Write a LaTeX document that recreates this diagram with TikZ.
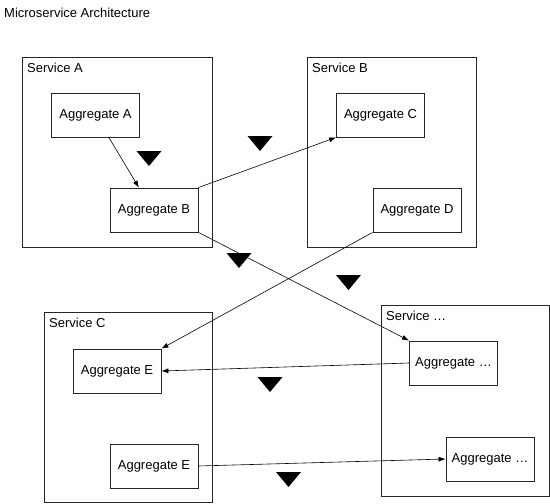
\documentclass[tikz,border=0pt]{standalone}
\usepackage{fontspec}
\setmainfont{Liberation Sans}
\usetikzlibrary{arrows.meta,calc}

\tikzset{
	service/.style={draw=black!85, line width=0.8pt, inner sep=0pt, anchor=north west},
	aggregate/.style={draw=black!85, line width=0.8pt, inner sep=0pt, minimum width=88pt, minimum height=44pt},
	label/.style={anchor=north west, inner sep=0pt},
	link/.style={line width=0.6pt, ->, >={Latex[length=7pt,width=5pt]}},
	marker/.style={fill=black}
}

\begin{document}
\begin{tikzpicture}[x=1pt, y=-1pt, font=\fontsize{13}{15}\selectfont]
	\useasboundingbox (0,0) rectangle (550,504);

	\node[anchor=west, inner sep=0pt] (title) at (4,13) {Microservice Architecture};

	\node[service, minimum width=190pt, minimum height=190pt] (svcA) at (22,57) {};%Service A
	\node[service, minimum width=169pt, minimum height=190pt] (svcB) at (307,57) {};%Service B
	\node[service, minimum width=168pt, minimum height=190pt] (svcC) at (44,312) {};%Service C
	\node[service, minimum width=168pt, minimum height=191pt] (svcX) at (381,305) {};%Service ...

	\node[label] (labA) at ($(svcA.north west)+(5,6)$) {Service A};
	\node[label] (labB) at ($(svcB.north west)+(5,6)$) {Service B};
	\node[label] (labC) at ($(svcC.north west)+(5,6)$) {Service C};
	\node[label] (labX) at ($(svcX.north west)+(5,6)$) {Service \dots};

	\node[aggregate] (aggA) at (95.5,115) {Aggregate A};
	\node[aggregate] (aggB) at (154,210) {Aggregate B};
	\node[aggregate] (aggC) at (380.5,115) {Aggregate C};
	\node[aggregate] (aggD) at (417,210) {Aggregate D};
	\node[aggregate] (aggE) at (117,371) {Aggregate E};
	\node[aggregate] (aggF) at (154,466) {Aggregate E};
	\node[aggregate] (aggX) at (453.5,363) {Aggregate \dots};
	\node[aggregate] (aggY) at (490,459) {Aggregate \dots};

	\draw[link] ($(aggA.south west)!0.65!(aggA.south east)$) -- ($(aggB.north west)!0.33!(aggB.north east)$);%A nach B
	\draw[link] (aggB.north east) -- (aggC.south west);
	\draw[link] (aggD.south west) -- (aggE.north east);
	\draw[link] (aggB.south east) -- (aggX.north west);
	\draw[link] (aggX.west) -- (aggE.east);
	\draw[link] (aggF.east) -- (aggY.west);

	\fill[marker] (136.5,151) -- (161.5,151) -- (149,166) -- cycle;%Dreieck in A
	\fill[marker] (247.5,136) -- (272.5,136) -- (260,151) -- cycle;
	\fill[marker] (226.5,253) -- (251.5,253) -- (239,268) -- cycle;
	\fill[marker] (336,275) -- (361,275) -- (348.5,290) -- cycle;
	\fill[marker] (257.5,377) -- (282.5,377) -- (270,392) -- cycle;
	\fill[marker] (276,472) -- (301,472) -- (288.5,487) -- cycle;
\end{tikzpicture}
\end{document}
